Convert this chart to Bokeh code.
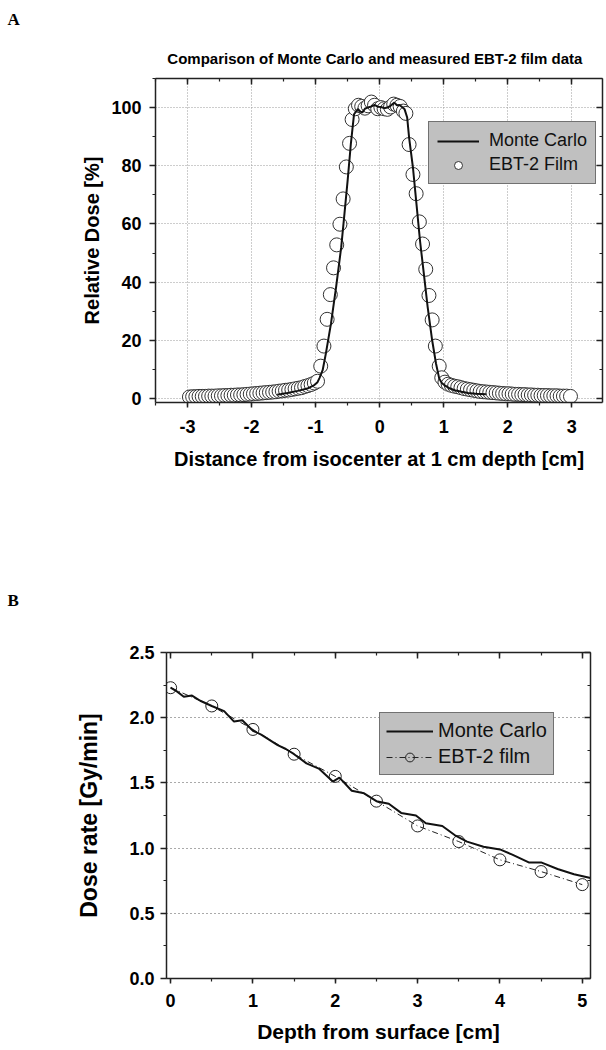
from bokeh.plotting import figure
from bokeh.models import (SingleIntervalTicker, LinearAxis, Legend, LegendItem, Title,
                          PrintfTickFormatter, CustomJSTickFormatter, Range1d)
from bokeh.embed import file_html
from bokeh.resources import INLINE

FONT = "Liberation Sans"

# ---------------- Panel A data ----------------
film_a_x = [-2.97, -2.92, -2.87, -2.82, -2.77, -2.72, -2.67, -2.62, -2.57, -2.52,
            -2.47, -2.42, -2.37, -2.32, -2.27, -2.22, -2.17, -2.12, -2.07, -2.02,
            -1.97, -1.92, -1.87, -1.82, -1.77, -1.72, -1.67, -1.62, -1.57, -1.52,
            -1.47, -1.42, -1.37, -1.32, -1.27, -1.22, -1.17, -1.12, -1.07, -1.02,
            -0.97, -0.92, -0.87, -0.82, -0.77, -0.72, -0.67, -0.62, -0.57, -0.52,
            -0.47, -0.43, -0.38, -0.33, -0.28, -0.23, -0.18, -0.13, -0.08, -0.03,
            0.02, 0.07, 0.12, 0.17, 0.22, 0.27, 0.32, 0.37, 0.41, 0.46,
            0.52, 0.57, 0.62, 0.67, 0.72, 0.77, 0.82, 0.87, 0.93, 0.97,
            1.02, 1.07, 1.12, 1.17, 1.22, 1.27, 1.32, 1.37, 1.42, 1.47,
            1.52, 1.57, 1.62, 1.67, 1.72, 1.77, 1.82, 1.87, 1.92, 1.97,
            2.02, 2.07, 2.12, 2.17, 2.22, 2.27, 2.32, 2.37, 2.42, 2.47,
            2.52, 2.57, 2.62, 2.67, 2.72, 2.77, 2.82, 2.87, 2.92, 2.98]
film_a_y = [0.5, 0.6, 0.6, 0.7, 0.7, 0.7, 0.8, 0.8, 0.8, 0.9,
            0.9, 1.0, 1.0, 1.1, 1.1, 1.2, 1.2, 1.3, 1.4, 1.5,
            1.6, 1.7, 1.8, 1.9, 2.0, 2.1, 2.2, 2.3, 2.5, 2.6,
            2.8, 2.9, 3.1, 3.3, 3.5, 3.7, 4.1, 4.4, 4.8, 5.3,
            5.9, 11.1, 18.0, 27.2, 35.7, 44.9, 52.8, 59.9, 68.6, 79.6,
            87.7, 95.9, 99.6, 100.8, 100.4, 99.8, 100.6, 101.9, 100.8, 99.6,
            100.0, 99.6, 99.4, 100.2, 101.2, 100.8, 100.4, 98.8, 98.0, 87.3,
            77.0, 70.4, 60.7, 53.1, 44.4, 35.4, 27.0, 18.0, 11.1, 7.1,
            5.6, 4.9, 4.5, 4.2, 4.0, 3.7, 3.4, 3.2, 3.0, 2.8,
            2.6, 2.4, 2.3, 2.2, 2.1, 2.0, 1.9, 1.8, 1.7, 1.6,
            1.6, 1.5, 1.4, 1.4, 1.3, 1.3, 1.2, 1.2, 1.1, 1.1,
            1.0, 1.0, 1.0, 0.9, 0.9, 0.9, 0.8, 0.8, 0.8, 0.7]

mc_a_x = [-1.60, -1.54, -1.44, -1.28, -1.13, -1.02, -0.97, -0.94, -0.89, -0.84,
          -0.76, -0.68, -0.60, -0.55, -0.50, -0.45, -0.40, -0.34, -0.30, -0.27,
          -0.23, -0.19, -0.13, -0.08, -0.03, 0.02, 0.07, 0.12, 0.17, 0.23,
          0.27, 0.31, 0.35, 0.39, 0.43, 0.46, 0.52, 0.57, 0.63, 0.69,
          0.75, 0.82, 0.88, 0.93, 0.97, 1.01, 1.08, 1.17, 1.28, 1.38,
          1.50, 1.66]
mc_a_y = [1.3, 1.5, 1.9, 2.6, 3.4, 4.6, 5.6, 7.0, 9.7, 15.4,
          25.7, 38.3, 52.0, 63.4, 74.9, 87.4, 97.7, 99.5, 98.6, 98.3,
          99.6, 100.0, 100.4, 100.9, 100.3, 100.2, 99.8, 100.0, 100.6, 101.7,
          100.8, 100.9, 100.2, 99.4, 96.6, 89.7, 79.4, 68.0, 54.3, 42.9,
          31.4, 20.0, 12.0, 6.9, 5.3, 4.6, 3.6, 2.8, 2.3, 1.9,
          1.6, 1.4]

# ---------------- Panel B data ----------------
film_b_x = [0.0, 0.5, 1.0, 1.5, 2.0, 2.5, 3.0, 3.5, 4.0, 4.5, 5.0]
film_b_y = [2.23, 2.09, 1.91, 1.72, 1.55, 1.36, 1.17, 1.05, 0.91, 0.82, 0.72]

mc_b_x = [0.0, 0.08, 0.16, 0.26, 0.36, 0.5, 0.65, 0.77, 0.87, 1.0,
          1.1, 1.2, 1.3, 1.4, 1.5, 1.65, 1.8, 1.97, 2.05, 2.2,
          2.35, 2.5, 2.65, 2.8, 2.98, 3.1, 3.3, 3.45, 3.6, 3.8,
          4.0, 4.15, 4.35, 4.5, 4.7, 4.9, 5.1]
mc_b_y = [2.23, 2.20, 2.16, 2.17, 2.13, 2.09, 2.05, 1.97, 1.98, 1.90,
          1.87, 1.83, 1.79, 1.76, 1.72, 1.65, 1.61, 1.51, 1.54, 1.44,
          1.42, 1.36, 1.34, 1.27, 1.25, 1.19, 1.17, 1.10, 1.05, 1.01,
          0.99, 0.95, 0.89, 0.89, 0.84, 0.80, 0.77]

title_a = "Comparison of  Monte Carlo and  measured EBT-2 film data"
xlabel_a = "Distance from isocenter at 1 cm depth [cm]"
ylabel_a = "Relative Dose [%]"
xlabel_b = "Depth from surface [cm]"
ylabel_b = "Dose rate [Gy/min]"
AXC = "#222222"


def style_main_axis(ax, tick_size, label_size, tick_out, label_standoff, axis_standoff):
    ax.axis_line_color = AXC
    ax.axis_line_width = 1.5
    ax.major_tick_line_color = AXC
    ax.major_tick_line_width = 1.5
    ax.minor_tick_line_color = AXC
    ax.minor_tick_line_width = 1.2
    ax.major_tick_out = tick_out
    ax.major_tick_in = 0
    ax.minor_tick_out = 3
    ax.minor_tick_in = 0
    ax.major_label_text_font = FONT
    ax.major_label_text_font_style = "bold"
    ax.major_label_text_font_size = tick_size
    ax.major_label_text_color = "black"
    ax.major_label_standoff = label_standoff
    ax.axis_label_text_font = FONT
    ax.axis_label_text_font_style = "bold"
    ax.axis_label_text_font_size = label_size
    ax.axis_label_text_color = "black"
    ax.axis_label_standoff = axis_standoff


def mirror_axis(p, ticker, side):
    ax = LinearAxis(ticker=ticker, formatter=CustomJSTickFormatter(code="return ''"))
    ax.axis_line_color = AXC
    ax.axis_line_width = 1.5
    ax.major_tick_line_color = AXC
    ax.major_tick_line_width = 1.5
    ax.minor_tick_line_color = AXC
    ax.minor_tick_line_width = 1.2
    ax.major_tick_in = 6
    ax.major_tick_out = 0
    ax.minor_tick_in = 3
    ax.minor_tick_out = 0
    ax.major_label_standoff = 0
    p.add_layout(ax, side)


def panel_title(p, text, font, size, standoff, offset, align):
    t = Title(text=text, text_font=font, text_font_size=size, text_font_style="bold",
              text_color="black", standoff=standoff, offset=offset, align=align)
    p.add_layout(t, "above")


# ================= Panel A =================
pA = figure(width=606, height=520, output_backend="svg", toolbar_location=None,
            x_range=Range1d(-3.5, 3.48), y_range=Range1d(-1.4, 110),
            min_border_left=155, min_border_right=4, min_border_top=78, min_border_bottom=118,
            background_fill_color="white", border_fill_color="white", title=None)
pA.outline_line_color = None

xtA = SingleIntervalTicker(interval=1, num_minor_ticks=2)
ytA = SingleIntervalTicker(interval=20, num_minor_ticks=2)
pA.xaxis[0].ticker = xtA
pA.yaxis[0].ticker = ytA
pA.xaxis[0].formatter = PrintfTickFormatter(format="%d")
pA.yaxis[0].formatter = PrintfTickFormatter(format="%d")
pA.xaxis[0].axis_label = xlabel_a
pA.yaxis[0].axis_label = ylabel_a
style_main_axis(pA.xaxis[0], "18px", "20px", 5, 12, 12)
style_main_axis(pA.yaxis[0], "18px", "20px", 6, 8, 5)
mirror_axis(pA, xtA, "above")
mirror_axis(pA, ytA, "right")
panel_title(pA, title_a, FONT, "15px", 24, -15, "center")
panel_title(pA, "A", "Liberation Serif", "17px", 14, -148, "left")

for g in (pA.xgrid[0], pA.ygrid[0]):
    g.grid_line_color = "#9a9a9a"
    g.grid_line_dash = "1 2"
    g.grid_line_width = 1

film_a = pA.scatter(film_a_x, film_a_y, marker="circle", size=14, fill_color="white",
                    line_color="#333333", line_width=1)
mc_a = pA.line(mc_a_x, mc_a_y, line_color="#111111", line_width=2)

legA = Legend(items=[LegendItem(label="Monte Carlo", renderers=[mc_a]),
                     LegendItem(label="EBT-2 Film", renderers=[film_a])],
              location=(273, 218), orientation="vertical",
              background_fill_color="#c0c0c0", background_fill_alpha=1.0,
              border_line_color="#222222", border_line_width=1.2,
              label_text_font=FONT, label_text_font_size="18px", label_text_color="#111111",
              glyph_width=42, glyph_height=20, label_height=20, label_standoff=10,
              padding=8, spacing=3, margin=0)
pA.add_layout(legA)

# ================= Panel B =================
pB = figure(width=606, height=526, output_backend="svg", toolbar_location=None,
            x_range=Range1d(-0.05, 5.1), y_range=Range1d(0.0, 2.5),
            min_border_left=166, min_border_right=16, min_border_top=132, min_border_bottom=68,
            background_fill_color="white", border_fill_color="white", title=None)
pB.outline_line_color = None

xtB = SingleIntervalTicker(interval=1, num_minor_ticks=2)
ytB = SingleIntervalTicker(interval=0.5, num_minor_ticks=2)
pB.xaxis[0].ticker = xtB
pB.yaxis[0].ticker = ytB
pB.xaxis[0].formatter = PrintfTickFormatter(format="%d")
pB.yaxis[0].formatter = PrintfTickFormatter(format="%.1f")
pB.xaxis[0].axis_label = xlabel_b
pB.yaxis[0].axis_label = ylabel_b
style_main_axis(pB.xaxis[0], "18px", "21px", 5, 10, 10)
style_main_axis(pB.yaxis[0], "18px", "23px", 6, 6, 24)
mirror_axis(pB, xtB, "above")
mirror_axis(pB, ytB, "right")
panel_title(pB, "B", "Liberation Serif", "17px", 86, -159, "left")

pB.xgrid[0].grid_line_color = None
pB.ygrid[0].grid_line_color = "#555555"
pB.ygrid[0].grid_line_dash = "1 3"
pB.ygrid[0].grid_line_width = 1

film_b_line = pB.line(film_b_x, film_b_y, line_color="#222222", line_width=1,
                      line_dash="6 3 1 3")
film_b = pB.scatter(film_b_x, film_b_y, marker="circle", size=12, fill_color=None,
                    line_color="#222222", line_width=1)
mc_b = pB.line(mc_b_x, mc_b_y, line_color="#111111", line_width=2)

legB = Legend(items=[LegendItem(label="Monte Carlo", renderers=[mc_b]),
                     LegendItem(label="EBT-2 film", renderers=[film_b_line, film_b])],
              location=(213, 203), orientation="vertical",
              background_fill_color="#c0c0c0", background_fill_alpha=1.0,
              border_line_color="#222222", border_line_width=1.2,
              label_text_font=FONT, label_text_font_size="20px", label_text_color="#111111",
              glyph_width=47, glyph_height=22, label_height=22, label_standoff=5,
              padding=6, spacing=3, margin=0)
pB.add_layout(legB)

open("out.html", "w").write(file_html([pA, pB], INLINE))
